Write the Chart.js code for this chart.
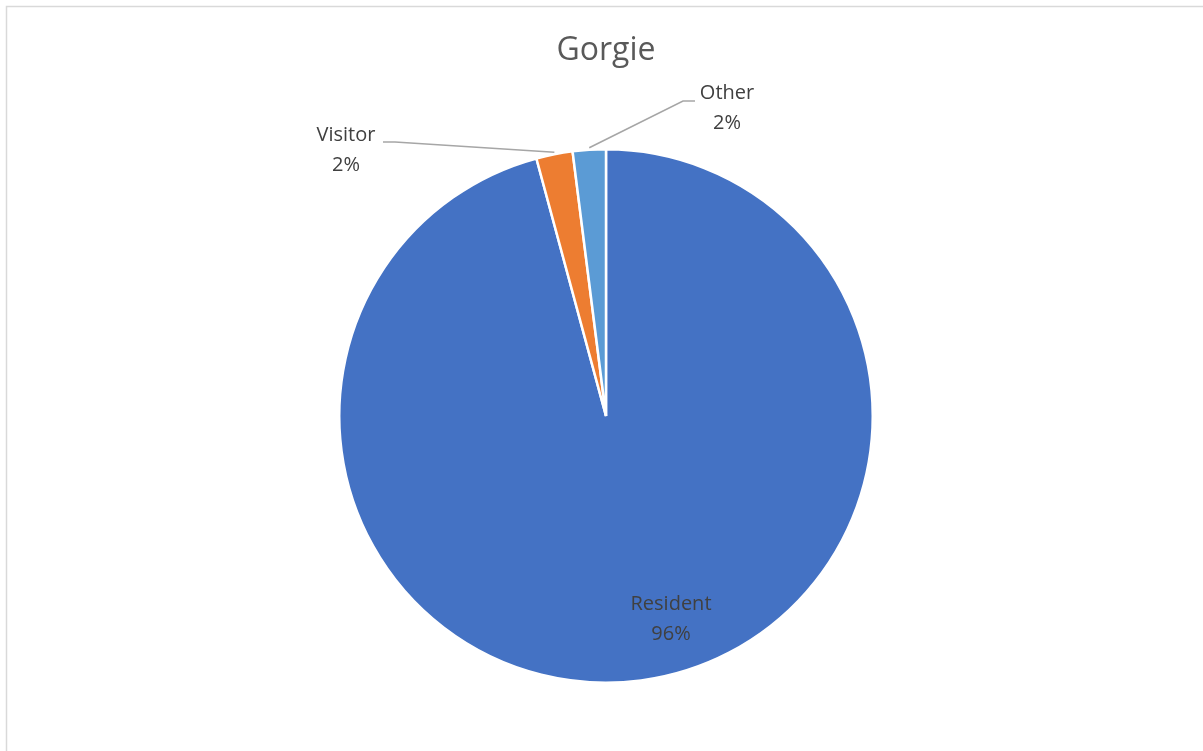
<!DOCTYPE html>
<html>
<head>
<meta charset="utf-8">
<script src="https://cdn.jsdelivr.net/npm/chart.js@4"></script>
<style>
  html, body { margin: 0; padding: 0; background: #fff; }
  #wrap { width: 1203px; height: 751px; position: relative; }
</style>
</head>
<body>
<div id="wrap"><canvas id="pieChart" width="1203" height="751"></canvas></div>
<script>
// ---- data ----
const categories = ['Resident', 'Visitor', 'Other'];
const shares = [95.8, 2.2, 2.0];
const sliceColors = ['#4472C4', '#ED7D31', '#5B9BD5'];
const chartTitle = 'Gorgie';

// label placement relative to the pie centre (in px), plus leader elbow points
const labelSpots = [
  { dx: 65, dy: 203, leader: null },
  { dx: -260, dy: -266, leader: { elbowDx: -211, elbowDy: -274, endDx: -223, endDy: -274 } },
  { dx: 121, dy: -308, leader: { elbowDx: 77, elbowDy: -315, endDx: 89, endDy: -315 } }
];

const FONT = "'Open Sans', 'Noto Sans', sans-serif";

// ---- frame + title + data labels ----
const excelDecor = {
  id: 'excelDecor',
  beforeDraw(chart) {
    const c = chart.ctx;
    c.save();
    c.strokeStyle = '#d9d9d9';
    c.lineWidth = 1.5;
    c.beginPath();
    c.moveTo(6.5, chart.height + 5);
    c.lineTo(6.5, 6.5);
    c.lineTo(chart.width + 5, 6.5);
    c.stroke();
    c.restore();
  },
  afterDraw(chart) {
    const c = chart.ctx;
    const meta = chart.getDatasetMeta(0);
    const total = shares.reduce((a, b) => a + b, 0);
    c.save();
    // title
    const first = meta.data[0];
    c.fillStyle = '#595959';
    c.font = '32px ' + FONT;
    c.textAlign = 'center';
    c.textBaseline = 'middle';
    c.fillText(chartTitle, first.x, 51);

    meta.data.forEach((arc, i) => {
      const spot = labelSpots[i];
      const cx = arc.x, cy = arc.y;
      const mid = (arc.startAngle + arc.endAngle) / 2;
      if (spot.leader) {
        const ax = cx + Math.cos(mid) * arc.outerRadius;
        const ay = cy + Math.sin(mid) * arc.outerRadius;
        c.strokeStyle = '#a6a6a6';
        c.lineWidth = 1.6;
        c.beginPath();
        c.moveTo(ax, ay - 2);
        c.lineTo(cx + spot.leader.elbowDx, cy + spot.leader.elbowDy);
        c.lineTo(cx + spot.leader.endDx, cy + spot.leader.endDy);
        c.stroke();
      }
      const pct = Math.round(shares[i] / total * 100) + '%';
      c.fillStyle = '#404040';
      c.font = '20px ' + FONT;
      c.textAlign = 'center';
      c.textBaseline = 'middle';
      c.fillText(categories[i], cx + spot.dx, cy + spot.dy - 15);
      c.fillText(pct, cx + spot.dx, cy + spot.dy + 15);
    });
    c.restore();
  }
};

new Chart(document.getElementById('pieChart'), {
  type: 'pie',
  data: {
    labels: categories,
    datasets: [{
      data: shares,
      backgroundColor: sliceColors,
      borderColor: '#ffffff',
      borderWidth: 2.5,
      hoverBorderWidth: 2.5
    }]
  },
  options: {
    responsive: false,
    animation: false,
    layout: { padding: { top: 148, bottom: 67, left: 9, right: 0 } },
    plugins: {
      legend: { display: false },
      tooltip: { enabled: false },
      title: { display: false }
    }
  },
  plugins: [excelDecor]
});
</script>
</body>
</html>
